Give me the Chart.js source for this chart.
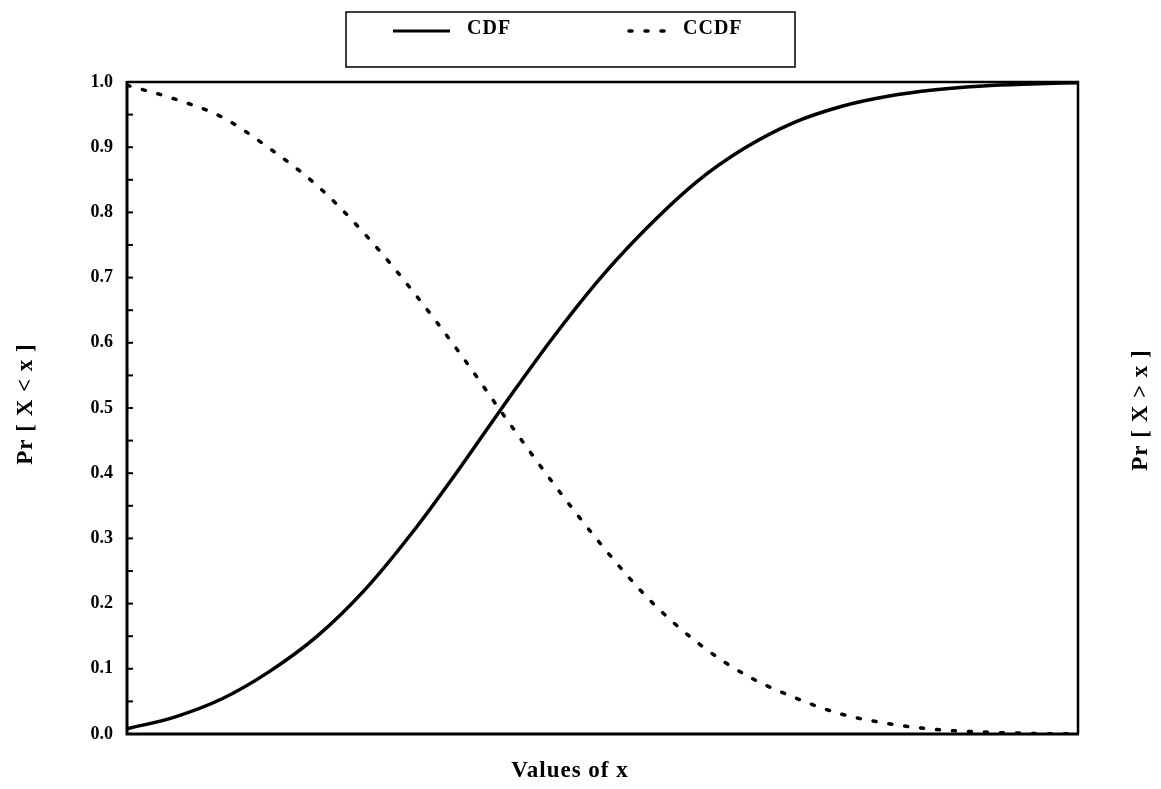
<!DOCTYPE html>
<html><head><meta charset="utf-8">
<script src="https://cdn.jsdelivr.net/npm/chart.js@4"></script>
<style>html,body{margin:0;padding:0;background:#fff}#wrap{width:1161px;height:789px;position:relative}</style>
</head><body><div id="wrap"><canvas id="c" width="1161" height="789"></canvas></div>
<script>
const xValues    = [0, 5, 10, 15, 20, 25, 30, 35, 40, 45, 50, 55, 60, 65, 70, 75, 80, 85, 90, 95, 100];
const cdfValues  = [0.008, 0.026, 0.054, 0.096, 0.150, 0.221, 0.309, 0.408, 0.512, 0.612, 0.703, 0.781, 0.848, 0.899, 0.937, 0.962, 0.978, 0.988, 0.994, 0.997, 0.999];
const ccdfValues = [0.995, 0.974, 0.946, 0.898, 0.841, 0.767, 0.680, 0.584, 0.481, 0.381, 0.288, 0.205, 0.140, 0.091, 0.057, 0.031, 0.016, 0.007, 0.003, 0.001, 0.0];
const yTickValues = [0, 0.1, 0.2, 0.3, 0.4, 0.5, 0.6, 0.7, 0.8, 0.9, 1.0];
const seriesNames = ['CDF', 'CCDF'];
const yTitleLeft = 'Pr [ X < x ]';
const yTitleRight = 'Pr [ X > x ]';
const xTitle = 'Values of x';

const SERIF = '"Liberation Serif", "DejaVu Serif", serif';

const decor = {
  id: 'decor',
  afterDraw(chart) {
    const ctx = chart.ctx, a = chart.chartArea, ys = chart.scales.y;
    ctx.save();
    ctx.strokeStyle = '#000'; ctx.fillStyle = '#000';
    // frame
    ctx.lineWidth = 2.5;
    ctx.beginPath(); ctx.moveTo(a.left, a.top); ctx.lineTo(a.right, a.top); ctx.lineTo(a.right, a.bottom); ctx.stroke();
    ctx.lineWidth = 3;
    ctx.beginPath(); ctx.moveTo(a.left, a.top - 1); ctx.lineTo(a.left, a.bottom); ctx.lineTo(a.right + 1, a.bottom); ctx.stroke();
    // inward ticks every 0.05
    ctx.lineWidth = 2;
    for (let k = 1; k < 20; k++) {
      const py = ys.getPixelForValue(k * 0.05);
      ctx.beginPath(); ctx.moveTo(a.left, py); ctx.lineTo(a.left + 6, py); ctx.stroke();
    }
    // titles
    ctx.font = 'bold 23px ' + SERIF;
    ctx.textAlign = 'center'; ctx.textBaseline = 'middle';
    try { ctx.letterSpacing = '1px'; } catch (e) {}
    ctx.fillText(xTitle, 570, 771);
    ctx.save(); ctx.translate(26, 404); ctx.rotate(-Math.PI / 2); ctx.fillText(yTitleLeft, 0, 0); ctx.restore();
    ctx.save(); ctx.translate(1141, 410); ctx.rotate(-Math.PI / 2); ctx.fillText(yTitleRight, 0, 0); ctx.restore();
    // legend box
    ctx.lineWidth = 1.5;
    ctx.strokeRect(346, 12, 449, 55);
    const ds = chart.data.datasets;
    ctx.lineWidth = 3;
    ctx.beginPath(); ctx.moveTo(393, 31); ctx.lineTo(450, 31); ctx.stroke();
    ctx.setLineDash(ds[1].borderDash); ctx.lineCap = 'round'; ctx.lineWidth = 3.5;
    ctx.beginPath(); ctx.moveTo(629, 31); ctx.lineTo(668, 31); ctx.stroke();
    ctx.setLineDash([]); ctx.lineCap = 'butt';
    ctx.font = 'bold 20px ' + SERIF; ctx.textAlign = 'left'; ctx.textBaseline = 'alphabetic';
    ctx.fillText(ds[0].label, 467, 34);
    ctx.fillText(ds[1].label, 683, 34);
    ctx.restore();
  }
};

new Chart(document.getElementById('c'), {
  type: 'line',
  data: {
    datasets: [
      { label: seriesNames[0], data: xValues.map((x, i) => ({ x, y: cdfValues[i] })),
        borderColor: '#000', borderWidth: 3.5, pointRadius: 0, cubicInterpolationMode: 'monotone', fill: false },
      { label: seriesNames[1], data: xValues.map((x, i) => ({ x, y: ccdfValues[i] })),
        borderColor: '#000', borderWidth: 3.5, borderDash: [3, 13], borderCapStyle: 'round', pointRadius: 0,
        cubicInterpolationMode: 'monotone', fill: false }
    ]
  },
  options: {
    responsive: false, animation: false, devicePixelRatio: 1,
    layout: { padding: { left: 0, top: 82, right: 83, bottom: 55 } },
    plugins: { legend: { display: false }, tooltip: { enabled: false } },
    scales: {
      x: { type: 'linear', min: 0, max: 100, display: false },
      y: { type: 'linear', min: 0, max: 1,
        afterBuildTicks: s => { s.ticks = yTickValues.map(v => ({ value: v })); },
        afterFit: s => { s.width = 127; },
        ticks: { callback: v => Number(v).toFixed(1), color: '#000', padding: 14,
          font: { family: SERIF, size: 18, weight: 'bold' } },
        grid: { display: false, drawTicks: false }, border: { display: false } }
    }
  },
  plugins: [decor]
});
</script></body></html>
